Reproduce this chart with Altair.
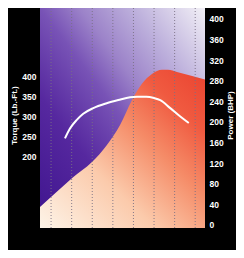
import altair as alt
import pandas as pd

# Power curve (red area), engine speed in x100 RPM vs BHP
power_rpm = [3.7, 8.4, 16.2, 23.9, 29.7, 34.8, 39.5, 43.3, 47.2, 51.1, 53.4, 56.9, 62.8, 67.8]
power_bhp = [35, 56, 91, 122, 155, 194, 243, 274, 293, 301, 301, 297, 289, 282]

# Torque curve (white line), Lb.-Ft.
torque_rpm = [13.4, 15.4, 18.0, 20.5, 24.4, 29.6, 34.1, 38.7, 41.4, 45.0, 48.0, 50.4, 54.3, 58.2, 61.5]
torque_lbft = [246, 271, 292, 307, 321, 333, 341, 348, 349, 349, 346, 341, 321, 300, 284]

rpm_ticks = [8, 16, 24, 32, 40, 48, 56, 64]
torque_ticks = [200, 250, 300, 350, 400]
power_ticks = [0, 40, 80, 120, 160, 200, 240, 280, 320, 360, 400]

x_domain = [3.7, 67.8]
torque_domain = [24, 569]
power_domain = [-6, 421]

FONT = "Liberation Sans, Arial"

power_df = pd.DataFrame({"rpm": power_rpm, "bhp": power_bhp})
torque_df = pd.DataFrame({"rpm": torque_rpm, "torque": torque_lbft})
grid_df = pd.DataFrame({"rpm": rpm_ticks})
bg_df = pd.DataFrame({"x": [x_domain[0]], "x2": [x_domain[1]],
                      "y": [power_domain[0]], "y2": [power_domain[1]]})

xscale = alt.Scale(domain=x_domain, nice=False, zero=False)
pscale = alt.Scale(domain=power_domain, nice=False, zero=False)
tscale = alt.Scale(domain=torque_domain, nice=False, zero=False)

label_style = dict(labelColor="white", labelFont=FONT, labelFontWeight="bold",
                   labelFontSize=8.5, titleColor="white", titleFont=FONT,
                   titleFontWeight="bold", titleFontSize=8,
                   domain=False, ticks=False, grid=False)

bg_grad = alt.Gradient(
    gradient="linear", x1=0, y1=1, x2=1, y2=0,
    stops=[alt.GradientStop(color="#3e148e", offset=0),
           alt.GradientStop(color="#56289f", offset=0.3),
           alt.GradientStop(color="#7853b6", offset=0.5),
           alt.GradientStop(color="#9c83c9", offset=0.62),
           alt.GradientStop(color="#bdb0dc", offset=0.78),
           alt.GradientStop(color="#f2f0f6", offset=1)])

area_grad = alt.Gradient(
    gradient="linear", x1=0, y1=1, x2=1, y2=0,
    stops=[alt.GradientStop(color="#fdf4e8", offset=0),
           alt.GradientStop(color="#fbcaab", offset=0.35),
           alt.GradientStop(color="#f58c68", offset=0.6),
           alt.GradientStop(color="#f05a40", offset=0.8),
           alt.GradientStop(color="#ea4330", offset=1)])

background = alt.Chart(bg_df).mark_rect(fill=bg_grad).encode(
    x=alt.X("x:Q", scale=xscale, axis=None),
    x2="x2:Q",
    y=alt.Y("y:Q", scale=pscale, axis=None),
    y2="y2:Q",
)

area = alt.Chart(power_df).mark_area(fill=area_grad, interpolate="monotone").encode(
    x=alt.X("rpm:Q", scale=xscale,
            axis=alt.Axis(values=rpm_ticks, title="Engine Speed (x100 RPM)",
                          labelPadding=6, labelFlush=False, titleY=19,
                          titleBaseline="middle", **label_style)),
    y=alt.Y("bhp:Q", scale=pscale,
            axis=alt.Axis(orient="right", values=power_ticks, title="Power (BHP)",
                          titleAngle=270, titleX=25, titleY=107,
                          titleBaseline="middle", titleAlign="center",
                          labelPadding=4, labelAlign="left", **label_style)),
    y2=alt.datum(power_domain[0]),
)

grid = alt.Chart(grid_df).mark_rule(color="#7a7084", strokeDash=[1, 2],
                                    strokeWidth=1, opacity=0.9).encode(
    x=alt.X("rpm:Q", scale=xscale, axis=None),
)

line = alt.Chart(torque_df).mark_line(color="white", strokeWidth=2,
                                      interpolate="monotone").encode(
    x=alt.X("rpm:Q", scale=xscale, axis=None),
    y=alt.Y("torque:Q", scale=tscale,
            axis=alt.Axis(orient="left", values=torque_ticks, title="Torque (Lb.-Ft.)",
                          titleAngle=270, titleX=-26, titleY=107,
                          titleBaseline="middle", titleAlign="center",
                          labelPadding=4, **label_style)),
)

chart = alt.layer(background, area, grid, line).resolve_scale(
    y="independent"
).properties(
    width=165, height=220,
    autosize=alt.AutoSizeParams(type="none"),
    padding={"left": 32, "top": 0, "right": 31, "bottom": 22},
    background="#000000",
).configure_view(stroke=None)

chart.save("out.html", embed_options={"renderer": "svg", "actions": False})
